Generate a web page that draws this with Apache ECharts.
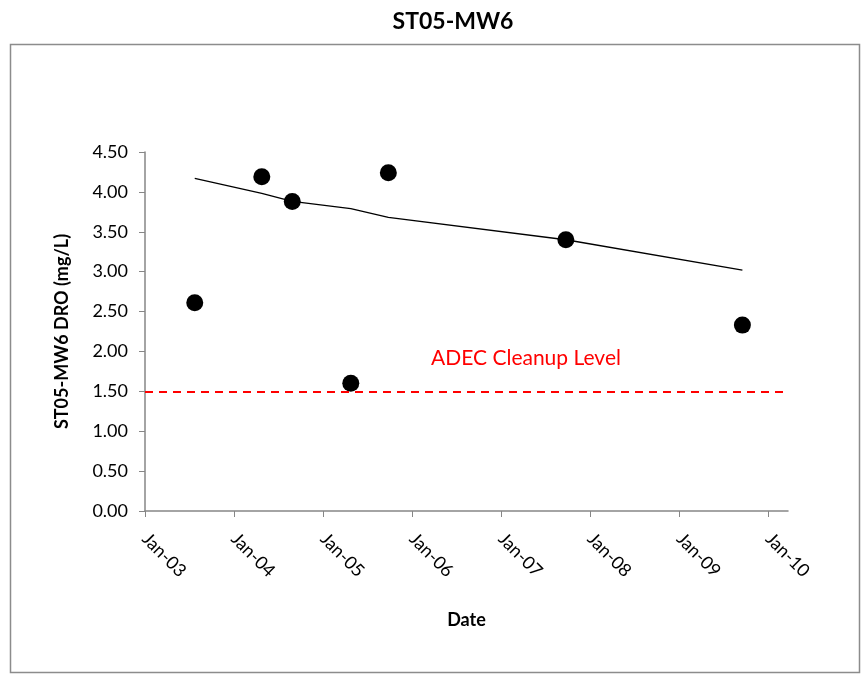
<!DOCTYPE html>
<html>
<head>
<meta charset="utf-8">
<script src="https://cdn.jsdelivr.net/npm/echarts@6/dist/echarts.min.js"></script>
<style>
  html, body { margin: 0; padding: 0; background: #fff; }
  #chart { width: 864px; height: 675px; }
</style>
</head>
<body>
<div id="chart"></div>
<script>
// sample dates and DRO results
let sampleDates = ['2003-07-24', '2004-04-24', '2004-08-27', '2005-04-24', '2005-09-25', '2007-09-23', '2009-09-16'];
let droValues = [2.61, 4.19, 3.88, 1.60, 4.24, 3.40, 2.33];
// trend line values at the sample dates
let trendValues = [4.17, 3.98, 3.88, 3.79, 3.68, 3.40, 3.02];
let cleanupLevel = 1.5;
let yTicks = [0, 0.5, 1, 1.5, 2, 2.5, 3, 3.5, 4, 4.5];

let font = 'Lato, "Open Sans", sans-serif';
let myChart = echarts.init(document.getElementById('chart'));

let option = {
    backgroundColor: '#fff',
    animation: false,
    title: {
        text: 'ST05-MW6',
        left: 448,
        top: 5,
        textAlign: 'center',
        textStyle: {
            fontFamily: font,
            fontSize: 23,
            fontWeight: 'bold',
            color: '#000'
        }
    },
    graphic: [
        { //外框
            type: 'rect',
            shape: { x: 10.5, y: 44.5, width: 849, height: 628 },
            style: { fill: 'none', stroke: '#8c8c8c', lineWidth: 1.5 },
            silent: true
        },
        {
            type: 'text',
            left: 431,
            top: 348,
            style: {
                text: 'ADEC Cleanup Level',
                fill: '#ff0000',
                font: '21px ' + font
            }
        }
    ],
    grid: {
        left: 145,
        right: 76,
        top: 152,
        bottom: 164,
        containLabel: false
    },
    xAxis: {
        type: 'time',
        min: new Date(2003, 0, 1).getTime(),
        max: new Date(2010, 2, 22).getTime(),
        minInterval: 365 * 24 * 3600 * 1000,
        maxInterval: 366 * 24 * 3600 * 1000,
        name: 'Date',
        nameLocation: 'middle',
        nameGap: 100,
        nameTextStyle: {
            fontFamily: font,
            fontSize: 18,
            fontWeight: 'bold',
            color: '#000'
        },
        axisLine: { show: true, lineStyle: { color: '#868686', width: 1.5 } },
        axisTick: { show: true, inside: false, length: 6, lineStyle: { color: '#868686' } },
        splitLine: { show: false },
        axisLabel: {
            rotate: -45,
            margin: 25,
            showMinLabel: true,
            showMaxLabel: false,
            fontFamily: font,
            fontSize: 18,
            color: '#000',
            formatter: function (val) {
                let d = new Date(val);
                let months = ['Jan', 'Feb', 'Mar', 'Apr', 'May', 'Jun', 'Jul', 'Aug', 'Sep', 'Oct', 'Nov', 'Dec'];
                return months[d.getMonth()] + '-' + String(d.getFullYear()).slice(2);
            }
        }
    },
    yAxis: {
        type: 'value',
        min: yTicks[0],
        max: yTicks[yTicks.length - 1],
        interval: 0.5,
        name: 'ST05-MW6 DRO (mg/L)',
        nameLocation: 'middle',
        nameGap: 74,
        nameTextStyle: {
            fontFamily: font,
            fontSize: 18,
            fontWeight: 'bold',
            color: '#000'
        },
        axisLine: { show: true, lineStyle: { color: '#868686', width: 1.5 } },
        axisTick: { show: true, length: 6, lineStyle: { color: '#868686' } },
        splitLine: { show: false },
        axisLabel: {
            margin: 17,
            fontFamily: font,
            fontSize: 18,
            color: '#000',
            formatter: function (v) { return v.toFixed(2); }
        }
    },
    series: [
        {
            name: 'Trend',
            type: 'line',
            data: sampleDates.map((d, i) => [d, trendValues[i]]),
            showSymbol: false,
            lineStyle: { color: '#000', width: 1.3 },
            z: 2,
            markLine: {
                silent: true,
                symbol: 'none',
                label: { show: false },
                lineStyle: { color: '#ff0000', type: [8, 6], width: 1.8 },
                data: [{ yAxis: cleanupLevel }]
            }
        },
        {
            name: 'DRO',
            type: 'scatter',
            data: sampleDates.map((d, i) => [d, droValues[i]]),
            symbol: 'circle',
            symbolSize: 17,
            itemStyle: { color: '#000', opacity: 1 },
            z: 3
        }
    ]
};
myChart.setOption(option);
</script>
</body>
</html>
